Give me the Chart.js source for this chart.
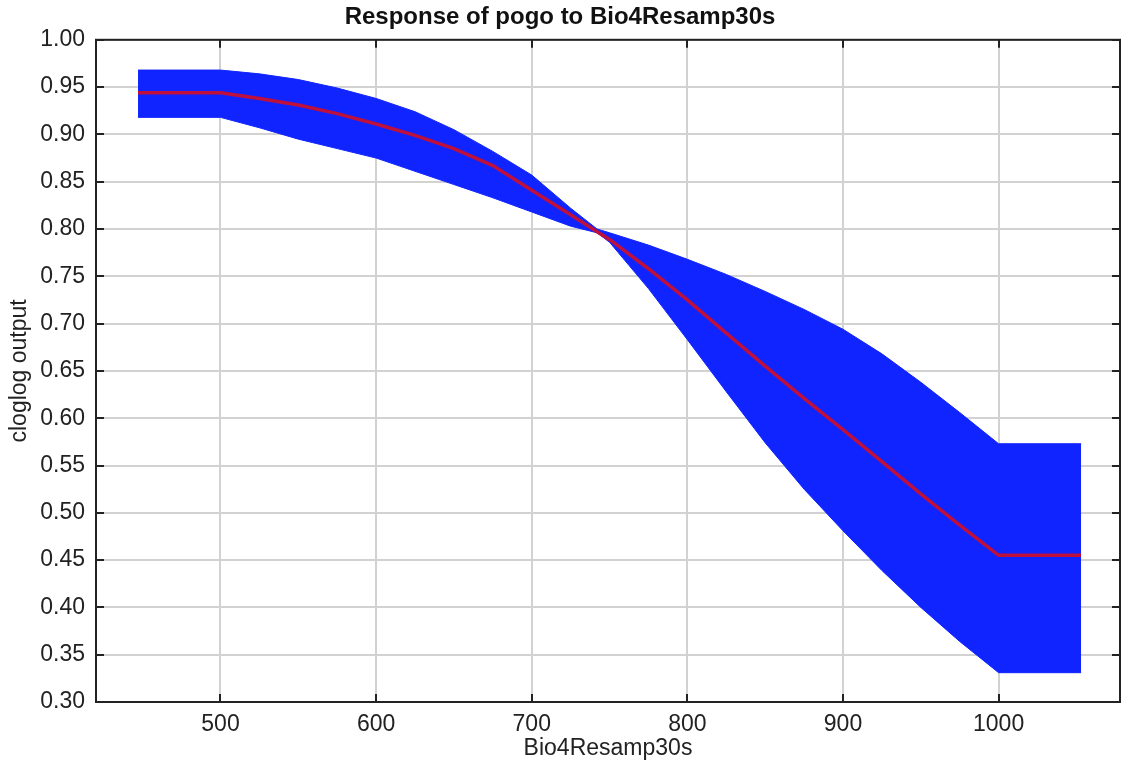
<!DOCTYPE html>
<html>
<head>
<meta charset="utf-8">
<script src="https://cdn.jsdelivr.net/npm/chart.js@4"></script>
<style>
  body { margin: 0; background: #fff; }
</style>
</head>
<body>
<canvas id="myChart" width="1123" height="765"></canvas>
<script>
// values
const X_VALUES = [447, 500, 525, 550, 575, 600, 625, 650, 675, 700, 725, 742, 750, 775, 800, 825, 850, 875, 900, 925, 950, 975, 1000, 1053];
const MEAN  = [0.944, 0.944, 0.938, 0.931, 0.922, 0.911, 0.899, 0.885, 0.867, 0.841, 0.815, 0.797, 0.789, 0.758, 0.725, 0.690, 0.655, 0.621, 0.588, 0.554, 0.520, 0.487, 0.455, 0.455];
const UPPER = [0.968, 0.968, 0.964, 0.958, 0.949, 0.938, 0.924, 0.905, 0.882, 0.857, 0.822, 0.800, 0.796, 0.783, 0.768, 0.752, 0.734, 0.715, 0.694, 0.668, 0.638, 0.606, 0.573, 0.573];
const LOWER = [0.918, 0.918, 0.907, 0.895, 0.885, 0.875, 0.861, 0.847, 0.833, 0.818, 0.803, 0.796, 0.786, 0.737, 0.683, 0.628, 0.574, 0.525, 0.481, 0.439, 0.400, 0.364, 0.331, 0.331];
const X_TICKS = [500, 600, 700, 800, 900, 1000];

const TITLE = 'Response of pogo to Bio4Resamp30s';
const X_LABEL = 'Bio4Resamp30s';
const Y_LABEL = 'cloglog output';

const BLUE = 'rgb(16, 36, 255)';
const RED = 'rgb(190, 16, 60)';

function pts(ys) { return X_VALUES.map((x, i) => ({ x: x, y: ys[i] })); }

// box round the plot with short ticks pointing inwards, on all four sides
const frame = {
    id: 'frame',
    afterDraw(chart) {
        const { ctx, chartArea: a, scales: { x, y } } = chart;
        ctx.save();
        ctx.strokeStyle = '#222';
        ctx.lineWidth = 2;
        ctx.strokeRect(a.left, a.top, a.right - a.left, a.bottom - a.top);
        ctx.beginPath();
        x.ticks.forEach(t => {
            const px = Math.round(x.getPixelForValue(t.value));
            ctx.moveTo(px, a.bottom); ctx.lineTo(px, a.bottom - 8);
            ctx.moveTo(px, a.top); ctx.lineTo(px, a.top + 8);
        });
        y.ticks.forEach(t => {
            const py = Math.round(y.getPixelForValue(t.value));
            ctx.moveTo(a.left, py); ctx.lineTo(a.left + 8, py);
            ctx.moveTo(a.right, py); ctx.lineTo(a.right - 8, py);
        });
        ctx.stroke();
        ctx.restore();
    }
};

let ctx = document.getElementById('myChart').getContext('2d');

let chart = new Chart(ctx, {
    type: 'line',
    data: {
        datasets: [{
            label: 'mean',
            data: pts(MEAN),
            borderColor: RED,
            borderWidth: 3.5,
            pointRadius: 0,
            fill: false,
            order: 0
        }, {
            label: 'lower',
            data: pts(LOWER),
            borderColor: BLUE,
            borderWidth: 1,
            pointRadius: 0,
            fill: false,
            order: 1
        }, {
            label: 'upper',
            data: pts(UPPER),
            borderColor: BLUE,
            backgroundColor: BLUE,
            borderWidth: 1,
            pointRadius: 0,
            fill: 1,
            order: 1
        }]
    },
    plugins: [frame],
    options: {
        responsive: false,
        animation: false,
        layout: { padding: { left: 0, right: 3, top: 0, bottom: 0 } },
        elements: { line: { tension: 0 } },
        plugins: {
            legend: { display: false },
            tooltip: { enabled: false },
            title: {
                display: true,
                text: TITLE,
                color: '#111',
                font: { family: 'Liberation Sans', size: 24, weight: 'bold' },
                padding: { top: 3, bottom: 8 }
            }
        },
        scales: {
            x: {
                type: 'linear',
                min: 420,
                max: 1078,
                afterBuildTicks: s => { s.ticks = X_TICKS.map(v => ({ value: v })); },
                afterFit: s => { s.height = 63; },
                grid: { color: '#d2d2d2', lineWidth: 2, drawTicks: false },
                border: { display: false },
                ticks: {
                    padding: 9,
                    color: '#222',
                    font: { family: 'Liberation Sans', size: 23 },
                    callback: v => String(v)
                },
                title: {
                    display: true,
                    text: X_LABEL,
                    color: '#222',
                    font: { family: 'Liberation Sans', size: 23 },
                    padding: { top: 0, bottom: 3 }
                }
            },
            y: {
                min: 0.3,
                max: 1.0,
                afterFit: s => { s.width = 96; },
                grid: { color: '#d2d2d2', lineWidth: 2, drawTicks: false },
                border: { display: false },
                ticks: {
                    stepSize: 0.05,
                    autoSkip: false,
                    padding: 11,
                    color: '#222',
                    font: { family: 'Liberation Sans', size: 23 },
                    callback: v => v.toFixed(2)
                },
                title: {
                    display: true,
                    text: Y_LABEL,
                    color: '#222',
                    font: { family: 'Liberation Sans', size: 23 },
                    padding: { top: 6, bottom: 0 }
                }
            }
        }
    }
});
</script>
</body>
</html>
